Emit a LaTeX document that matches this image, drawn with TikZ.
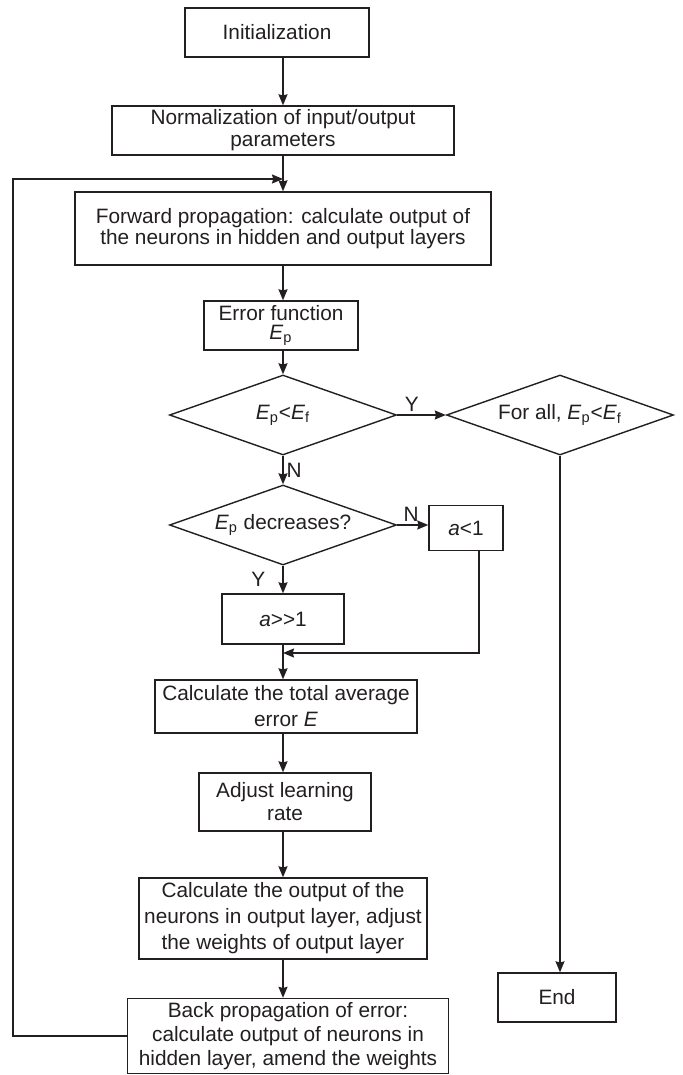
\documentclass[tikz,border=0pt]{standalone}
\usepackage{fontspec}
\setmainfont{Liberation Sans}
\usepackage{xcolor}
\usetikzlibrary{arrows.meta}
\usetikzlibrary{shapes.geometric}

\definecolor{ink}{RGB}{35,31,32}
\newcommand{\Ep}{\textit{E}\textsubscript{p}}
\newcommand{\Ef}{\textit{E}\textsubscript{f}}

\begin{document}
\begin{tikzpicture}[x=0.5pt,y=-0.5pt,>={Stealth[length=5.5pt,width=4.5pt,inset=0.6pt]},line width=0.7pt,
        draw=ink,text=ink,font=\fontsize{10.4}{12}\selectfont]
	\tikzstyle{blk}=[draw, rectangle, align=center, inner sep=1pt]
	\tikzstyle{dec}=[draw, diamond, aspect=2.8, inner sep=0pt, minimum width=113.5pt, minimum height=40pt]
	\tikzstyle{lbl}=[inner sep=1.5pt]
	\useasboundingbox (0,0) rectangle (683,1075);

	% main column
	\node[blk, minimum width=92pt, minimum height=24.5pt]    (init) at (277,32.5)  {Initialization};
	\node[blk, minimum width=171pt, minimum height=24.5pt, font=\fontsize{10.4}{11}\selectfont]
		(norm) at (283,130.5) {Normalization of input/output\\parameters};
	\node[blk, minimum width=208pt, minimum height=36.5pt, font=\fontsize{10.4}{9.2}\selectfont]
		(fwd) at (283,228.5) {Forward propagation: calculate output of\\the neurons in hidden and output layers};
	\node[blk, minimum width=77pt, minimum height=24.5pt, font=\fontsize{10.4}{9.5}\selectfont]
		(err) at (281,325.5) {Error function\\\Ep};
	\node[dec] (d1) at (283,415) {\Ep<\Ef};
	\node[dec] (d2) at (560,415) {For all, \Ep<\Ef};
	\node[dec] (d3) at (283,525) {\Ep{} decreases?};
	\node[blk, minimum width=37pt, minimum height=22.5pt] (alt) at (466,528) {\textit{a}<1};
	\node[blk, minimum width=61pt, minimum height=25pt]   (big) at (283,619) {\textit{a}>{}>1};
	\coordinate (join) at (283,653);
	\node[blk, minimum width=131pt, minimum height=26.5pt, font=\fontsize{10.4}{13}\selectfont]
		(tot) at (286,706.5) {Calculate the total average\\error \textit{E}};
	\node[blk, minimum width=86pt, minimum height=29pt, font=\fontsize{10.4}{11.5}\selectfont]
		(adj) at (285,802) {Adjust learning\\rate};
	\node[blk, minimum width=144pt, minimum height=40.5pt, font=\fontsize{10.4}{13}\selectfont]
		(outp) at (283,918.5) {Calculate the output of the\\neurons in output layer, adjust\\the weights of output layer};
	\node[blk, minimum width=160.5pt, minimum height=37.5pt, font=\fontsize{10.4}{12}\selectfont]
		(back) at (288,1036) {Back propagation of error:\\calculate output of neurons in\\hidden layer, amend the weights};
	\node[blk, minimum width=59pt, minimum height=24.5pt] (end) at (557,997.5) {End};

	% loop back corner points
	\coordinate (lu) at (13,179);
	\coordinate (top) at (283,179);

	\draw[->] (init.south -| 283,0) -- (norm.north -| 283,0);
	\draw[->] (norm) -- (fwd);
	\draw[->] (fwd) -- (fwd.south |- err.north);
	\draw[->] (fwd.south |- err.south) -- (d1);
	\draw[->] (d1) -- node[lbl, above, pos=.3] {Y} (d2);
	\draw[->] (d1) -- node[lbl, right] {N} (d3);
	\draw[->] (d3) -- node[lbl, above, pos=.45] {N} (d3.east -| alt.west);
	\draw[->] (d3) -- node[lbl, left=7pt] {Y} (big);
	\draw[->] ([xshift=6.5pt]alt.south) |- (join);
	\draw[->] (big) -- (big.south |- tot.north);
	\draw[->] (big.south |- tot.south) -- (big.south |- adj.north);
	\draw[->] (big.south |- adj.south) -- (outp);
	\draw[->] (outp) -- (outp.south |- back.north);
	\draw[->] (d2) -- (d2.south |- end.north);
	\draw[->] (back.west) -| (lu) -- (top);
\end{tikzpicture}
\end{document}
